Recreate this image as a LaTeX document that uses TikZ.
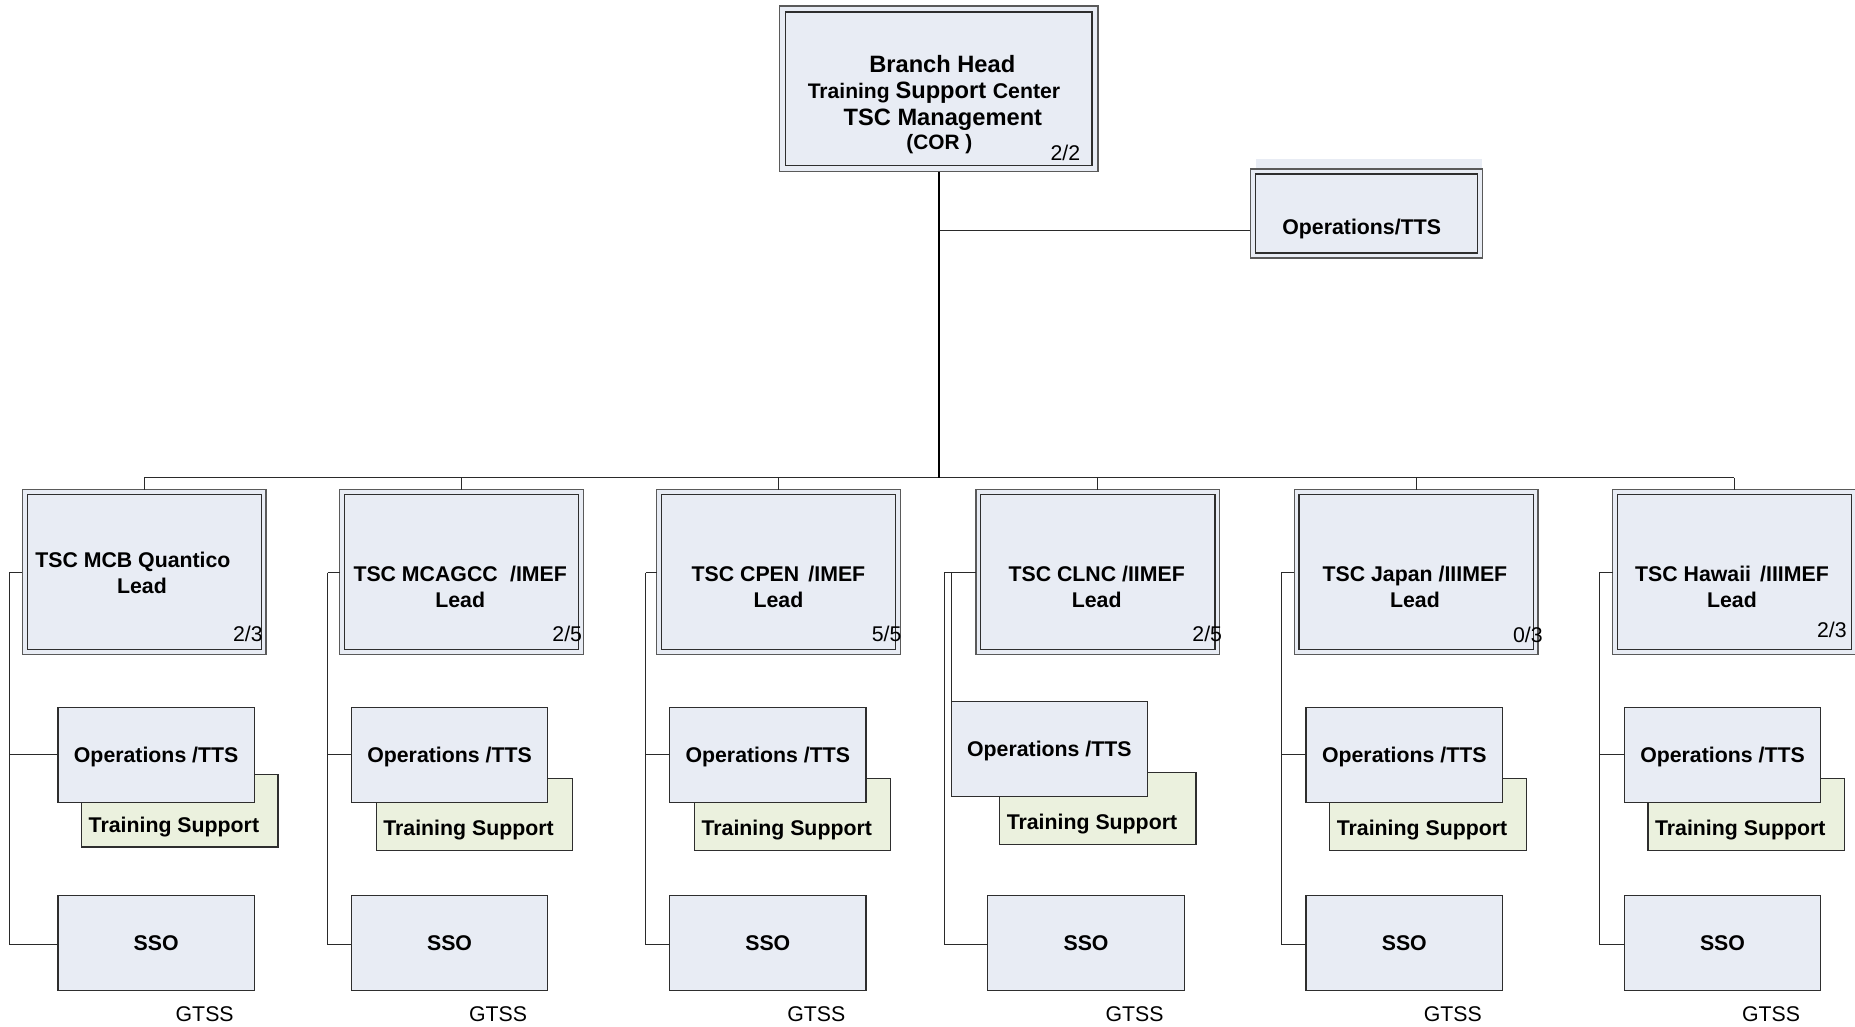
\documentclass[tikz,border=0pt]{standalone}
\usepackage{fontspec}
\setmainfont{Liberation Sans}
\definecolor{boxfill}{HTML}{E8ECF4}
\definecolor{tsfill}{HTML}{EBF1DE}
\definecolor{outerline}{HTML}{5A5A5A}
\definecolor{innerline}{HTML}{2E2E2E}
\definecolor{connline}{HTML}{2A2A2A}
\tikzset{
  every node/.style={inner sep=0pt, outer sep=0pt},
  bx/.style={fill=boxfill, draw=outerline, line width=0.6pt, anchor=north west},
  leadbox/.style={bx, minimum width=103pt, minimum height=69.5pt},
  topbox/.style={bx, minimum width=134.5pt, minimum height=70pt},
  opstop/.style={bx, minimum width=98pt, minimum height=37.5pt},
  opsbox/.style={fill=boxfill, draw=innerline, line width=0.5pt, anchor=north west,
     minimum width=83pt, minimum height=40pt, text depth=0pt,
     font=\fontsize{9}{11}\selectfont\bfseries},
  ssobox/.style={opsbox},
  tsbox/.style={fill=tsfill, draw=innerline, line width=0.5pt, anchor=north west,
     minimum width=83pt, minimum height=30.5pt},
  inner/.style={draw=innerline, line width=0.6pt},
  conn/.style={draw=connline, line width=0.42pt},
  trunk/.style={draw=black, line width=0.85pt},
  txt/.style={anchor=base, font=\fontsize{9}{11}\selectfont\bfseries},
  ttl/.style={anchor=center, align=center, font=\fontsize{9}{11}\selectfont\bfseries},
  num/.style={anchor=base east, font=\fontsize{9}{11}\selectfont},
  gt/.style={anchor=base, font=\fontsize{9}{11}\selectfont},
}
% #1 id, #2 lead left, #3 connector x, #4 ops left, #5 ops top, #6 ts left, #7 ts top, #8 sso left
\newcommand\tscgroup[8]{%
  \node[leadbox] (lead#1) at (#2,414) {};
  \draw[inner] ([shift={(4,4)}]lead#1.north west) rectangle ([shift={(-4,-4)}]lead#1.south east);
  \node[tsbox] (ts#1) at (#6,#7) {};
  \node[txt] (tst#1) at (#6+78,#7+48.5) {Training Support};
  \node[opsbox] (ops#1) at (#4,#5) {Operations /TTS};
  \node[ssobox] (sso#1) at (#8,757) {SSO};
  \node[gt] (gtss#1) at (#8+124,863.5) {GTSS};
  \coordinate (vt#1) at (#3,484);
  \coordinate (vb#1) at (#3,798);
  \draw[conn] (lead#1.north |- busmid) -- (lead#1.north);
  \draw[conn] (vt#1) -- (vt#1 -| lead#1.west);
  \draw[conn] (vt#1) -- (vb#1) -- (vb#1 -| sso#1.west);
}
\begin{document}
\begin{tikzpicture}[x=0.5pt,y=-0.5pt]
\useasboundingbox (0,0) rectangle (1568,868);
\fill[white] (0,0) rectangle (1568,868);

% top box
\node[topbox] (head) at (659,5) {};
\draw[inner] ([shift={(5,5)}]head.north west) rectangle ([shift={(-5,-5)}]head.south east);
\node[anchor=base, font=\fontsize{10}{12}\selectfont\bfseries] (h1) at (796.5,61) {Branch Head};
\node[anchor=base, font=\bfseries] (h2) at (789.5,83.5) {\fontsize{8.9}{11}\selectfont Training \fontsize{10}{12}\selectfont Support \fontsize{9}{11}\selectfont Center};
\node[anchor=base, font=\fontsize{10}{12}\selectfont\bfseries] (h3) at (797,106) {TSC Management};
\node[anchor=base, font=\fontsize{8.8}{11}\selectfont\bfseries] (h4) at (794,126) {(COR )};
\node[num] (h5) at (913,136) {2/2};

% top-right operations
\fill[boxfill] (1062,134) rectangle (1253,143);
\node[opstop] (opsT) at (1057,143) {};
\draw[inner] ([shift={(4,4)}]opsT.north west) rectangle ([shift={(-4,-4)}]opsT.south east);
\node[txt] (opsTt) at (1151,198.5) {Operations/TTS};

% trunk and bus
\coordinate (busmid) at (794,404);
\coordinate (brT) at (794,195);
\draw[conn] (brT) -- (brT -| opsT.west);

\tscgroup{1}{19}{8}{49}{598}{69}{655}{49}
\tscgroup{2}{287}{277}{297}{598}{318}{658}{297}
\tscgroup{3}{555}{546}{566}{598}{587}{658}{566}
\tscgroup{4}{825}{798}{804}{593}{845}{653}{835}
\tscgroup{5}{1094}{1083}{1104}{598}{1124}{658}{1104}
\tscgroup{6}{1363}{1352}{1373}{598}{1393}{658}{1373}

\draw[conn] (lead1.north |- busmid) -- (lead6.north |- busmid);
\draw[trunk] (head.south) -- (head.south |- busmid);

% operations connectors
\draw[conn] (ops1.west -| vt1) -- (ops1.west);
\draw[conn] (ops2.west -| vt2) -- (ops2.west);
\draw[conn] (ops3.west -| vt3) -- (ops3.west);
\draw[conn] (ops4.north west |- vt4) -- (ops4.north west);
\draw[conn] (ops5.west -| vt5) -- (ops5.west);
\draw[conn] (ops6.west -| vt6) -- (ops6.west);

% titles
\node[ttl] (title1) at (120,484) {TSC MCB Quantico\hspace*{0.85em}\\Lead};
\node[ttl] (title2) at (389,496) {TSC MCAGCC\hspace{0.3em} /IMEF\\Lead};
\node[ttl] (title3) at (658,496) {TSC CPEN\hspace{0.15em} /IMEF\\Lead};
\node[ttl] (title4) at (927,496) {TSC CLNC /IIMEF\\Lead};
\node[ttl] (title5) at (1196,496) {TSC Japan /IIIMEF\\Lead};
\node[ttl] (title6) at (1464,496) {TSC Hawaii\hspace{0.15em} /IIIMEF\\Lead};

% counts
\node[num] (n1) at (222,542) {2/3};
\node[num] (n2) at (492,542.5) {2/5};
\node[num] (n3) at (762,542) {5/5};
\node[num] (n4) at (1033,542.5) {2/5};
\node[num] (n5) at (1304,543) {0/3};
\node[num] (n6) at (1561,539) {2/3};
\end{tikzpicture}
\end{document}
